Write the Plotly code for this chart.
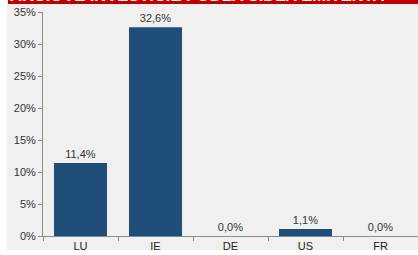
import plotly.graph_objects as go

categories = ["LU", "IE", "DE", "US", "FR"]
values = [11.4, 32.6, 0.0, 1.1, 0.0]
y_ticks = [0, 5, 10, 15, 20, 25, 30, 35]
title_text = "AKCIOVÉ INVESTÍCIE PODĽA SÍDLA EMITENTA"

labels = [f"{v:.1f}%".replace(".", ",") for v in values]

W, H = 418, 255
fig = go.Figure()
fig.add_trace(go.Bar(
    x=categories, y=values, width=0.707,
    marker=dict(color="#1f4e78", line=dict(width=0)),
    text=labels, textposition="outside", cliponaxis=False,
    textfont=dict(family="Liberation Sans, Arial", size=11, color="#333333"),
))

fig.update_layout(
    width=W, height=H,
    margin=dict(l=43, r=0, t=12, b=19),
    paper_bgcolor="white", plot_bgcolor="rgba(0,0,0,0)",
    showlegend=False,
    font=dict(family="Liberation Sans, Arial", size=11, color="#333333"),
    shapes=[
        dict(type="rect", xref="paper", yref="paper", layer="below",
             x0=-36/375, x1=1, y0=-14/224, y1=1 + 8/224,
             fillcolor="#f0f0f0", line=dict(width=0)),
        dict(type="rect", xref="paper", yref="paper", layer="below",
             x0=-35/375, x1=1, y0=1 + 8/224, y1=1 + 12.5/224,
             fillcolor="#c00000", line=dict(width=0)),
    ],
    annotations=[
        dict(text="<b>" + title_text + "</b>", xref="paper", yref="paper",
             x=-35/375, y=1 + 8/224, xanchor="left", yanchor="bottom",
             yshift=-2, showarrow=False,
             font=dict(family="Liberation Sans, Arial", size=16.5, color="white")),
    ],
    bargap=0.3,
)
fig.update_xaxes(
    range=[-0.5, 4.5], showline=True, linecolor="#8c8c8c", linewidth=1,
    ticks="outside", tickson="boundaries", ticklen=4, tickcolor="#8c8c8c",
    showgrid=False, tickfont=dict(size=11, color="#222222"),
)
fig.update_yaxes(
    range=[0, 35], tickvals=y_ticks, ticktext=[f"{t}%" for t in y_ticks],
    showline=True, linecolor="#8c8c8c", linewidth=1,
    ticks="outside", ticklen=4, tickcolor="#8c8c8c",
    showgrid=False, zeroline=False, tickfont=dict(size=11, color="#333333"),
)

fig.write_html("out.html", config={"displayModeBar": False},
               post_script="document.body.style.margin='0';document.body.style.overflow='hidden';")
